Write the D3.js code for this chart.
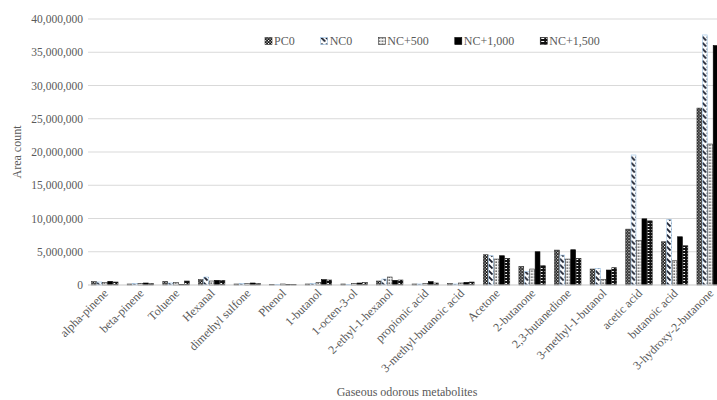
<!DOCTYPE html>
<html>
<head>
<meta charset="utf-8">
<script src="https://cdn.jsdelivr.net/npm/d3@7"></script>
<style>
html,body{margin:0;padding:0;background:#fff;overflow:hidden;}
svg{display:block;font-family:"Liberation Serif","Times New Roman",serif;}
svg text{font-family:"Liberation Serif","Times New Roman",serif;}
</style>
</head>
<body>
<svg id="chart" width="717" height="400"></svg>
<script>
const categories = ["alpha-pinene","beta-pinene","Toluene","Hexanal","dimethyl sulfone","Phenol","1-butanol","1-octen-3-ol","2-ethyl-1-hexanol","propionic acid","3-methyl-butanoic acid","Acetone","2-butanone","2,3-butanedione","3-methyl-1-butanol","acetic acid","butanoic acid","3-hydroxy-2-butanone"];
const seriesNames = ["PC0","NC0","NC+500","NC+1,000","NC+1,500"];
const PC0      = [500000,150000,550000,800000,150000,100000,150000,150000,600000,150000,200000,4550000,2800000,5250000,2400000,8400000,6500000,26600000];
const NC0      = [450000,200000,300000,1200000,200000,100000,200000,100000,900000,150000,150000,4400000,2000000,4500000,2500000,19550000,9850000,37600000];
const NC500    = [400000,250000,400000,600000,200000,150000,400000,250000,1200000,200000,300000,3900000,2400000,3900000,860000,6700000,3650000,21200000];
const NC1000   = [550000,300000,100000,700000,300000,100000,800000,300000,700000,500000,400000,4400000,5000000,5300000,2250000,9950000,7250000,36000000];
const NC1500   = [450000,200000,600000,700000,200000,100000,750000,350000,750000,300000,450000,4000000,2900000,4000000,2600000,9650000,5900000,35500000];
const yTicks   = [0,5000000,10000000,15000000,20000000,25000000,30000000,35000000,40000000];
const seriesValues = [PC0, NC0, NC500, NC1000, NC1500];

const svg = d3.select("#chart");
const textColor = "#595959";
const FONT = "'Liberation Serif','Times New Roman',serif";
const defs = svg.append("defs");

// patterns
const p0 = defs.append("pattern").attr("id","pat0").attr("patternUnits","userSpaceOnUse").attr("width",3).attr("height",3);
p0.append("rect").attr("width",3).attr("height",3).attr("fill","#111");
p0.append("rect").attr("x",0).attr("y",0).attr("width",1.2).attr("height",1.2).attr("fill","#fff");
p0.append("rect").attr("x",1.5).attr("y",1.5).attr("width",1.2).attr("height",1.2).attr("fill","#eee");

const p1 = defs.append("pattern").attr("id","pat1").attr("patternUnits","userSpaceOnUse").attr("width",5).attr("height",6);
p1.append("rect").attr("width",5).attr("height",6).attr("fill","#fff");
p1.append("path").attr("d","M0.5,0.5 L4.5,4.5").attr("stroke","#1a1f2e").attr("stroke-width",1.8);

const p2 = defs.append("pattern").attr("id","pat2").attr("patternUnits","userSpaceOnUse").attr("width",3).attr("height",3);
p2.append("rect").attr("width",3).attr("height",3).attr("fill","#f4f4f4");
p2.append("rect").attr("x",0.5).attr("y",0.5).attr("width",1.3).attr("height",1.3).attr("fill","#222");

const p4 = defs.append("pattern").attr("id","pat4").attr("patternUnits","userSpaceOnUse").attr("width",5).attr("height",3);
p4.append("rect").attr("width",5).attr("height",3).attr("fill","#111");
p4.append("rect").attr("x",1).attr("y",1).attr("width",3).attr("height",1).attr("fill","#fff");

const fills = ["url(#pat0)","url(#pat1)","url(#pat2)","#000","url(#pat4)"];
const strokes = ["#333","#9dc3e6","#333","#000","#222"];

const x0 = d3.scaleBand().domain(categories).range([87, 728]).paddingInner(0.24).paddingOuter(0.12);
const x1 = d3.scaleBand().domain(seriesNames).range([0, x0.bandwidth()]);
const y = d3.scaleLinear().domain([0, 40000000]).range([285, 19]);

// gridlines
svg.append("g").selectAll("line").data(yTicks).join("line")
  .attr("x1", 88).attr("x2", 717)
  .attr("y1", d => y(d)).attr("y2", d => y(d))
  .attr("stroke", "#d9d9d9").attr("stroke-width", 1);

// y axis labels
const yAxis = d3.axisLeft(y).tickValues(yTicks).tickSize(0).tickPadding(0).tickFormat(d3.format(","));
const yg = svg.append("g").attr("transform","translate(83,0)").call(yAxis).attr("font-family", FONT);
yg.select(".domain").remove();
yg.selectAll("text").attr("fill", textColor).style("font-size","11.5px").style("font-family",FONT);

// bars
const groups = svg.append("g").selectAll("g").data(categories).join("g")
  .attr("transform", d => `translate(${x0(d)},0)`);
groups.selectAll("rect").data((c, i) => seriesNames.map((s, j) => ({s, j, v: seriesValues[j][i]})))
  .join("rect")
  .attr("x", d => x1(d.s) + 0.3)
  .attr("width", x1.bandwidth() - 0.6)
  .attr("y", d => y(d.v))
  .attr("height", d => y(0) - y(d.v))
  .attr("fill", d => fills[d.j])
  .attr("stroke", d => strokes[d.j])
  .attr("stroke-width", 0.6);

// x axis line
svg.append("line").attr("x1",88).attr("x2",717).attr("y1",y(0)).attr("y2",y(0)).attr("stroke","#d9d9d9");

// x labels
const xAxis = d3.axisBottom(x0).tickSize(0).tickPadding(0);
const xg = svg.append("g").attr("transform", `translate(0,${y(0)})`).call(xAxis).attr("font-family", FONT);
xg.select(".domain").remove();
xg.selectAll("text")
  .attr("fill", textColor)
  .style("font-size","12px")
  .style("font-family",FONT)
  .attr("text-anchor","end")
  .attr("dy", null).attr("y", 0).attr("x", 0)
  .attr("transform","translate(4,9) rotate(-45)");

// axis titles
svg.append("text").attr("transform","translate(21,152) rotate(-90)")
  .attr("text-anchor","middle").attr("fill",textColor).style("font-size","12px").text("Area count");
svg.append("text").attr("x",407).attr("y",396)
  .attr("text-anchor","middle").attr("fill",textColor).style("font-size","12px").text("Gaseous odorous metabolites");

// legend
const lg = svg.append("g");
let lx = 265;
seriesNames.forEach((name, i) => {
  const g = lg.append("g").attr("transform", `translate(${lx},37)`);
  g.append("rect").attr("width",7).attr("height",7).attr("y",0.5)
    .attr("fill", fills[i]).attr("stroke", strokes[i]).attr("stroke-width",0.6);
  const t = g.append("text").attr("x",9).attr("y",8).attr("fill",textColor).style("font-size","12px").text(name);
  lx += 9 + t.node().getComputedTextLength() + 26;
});
</script>
</body>
</html>
